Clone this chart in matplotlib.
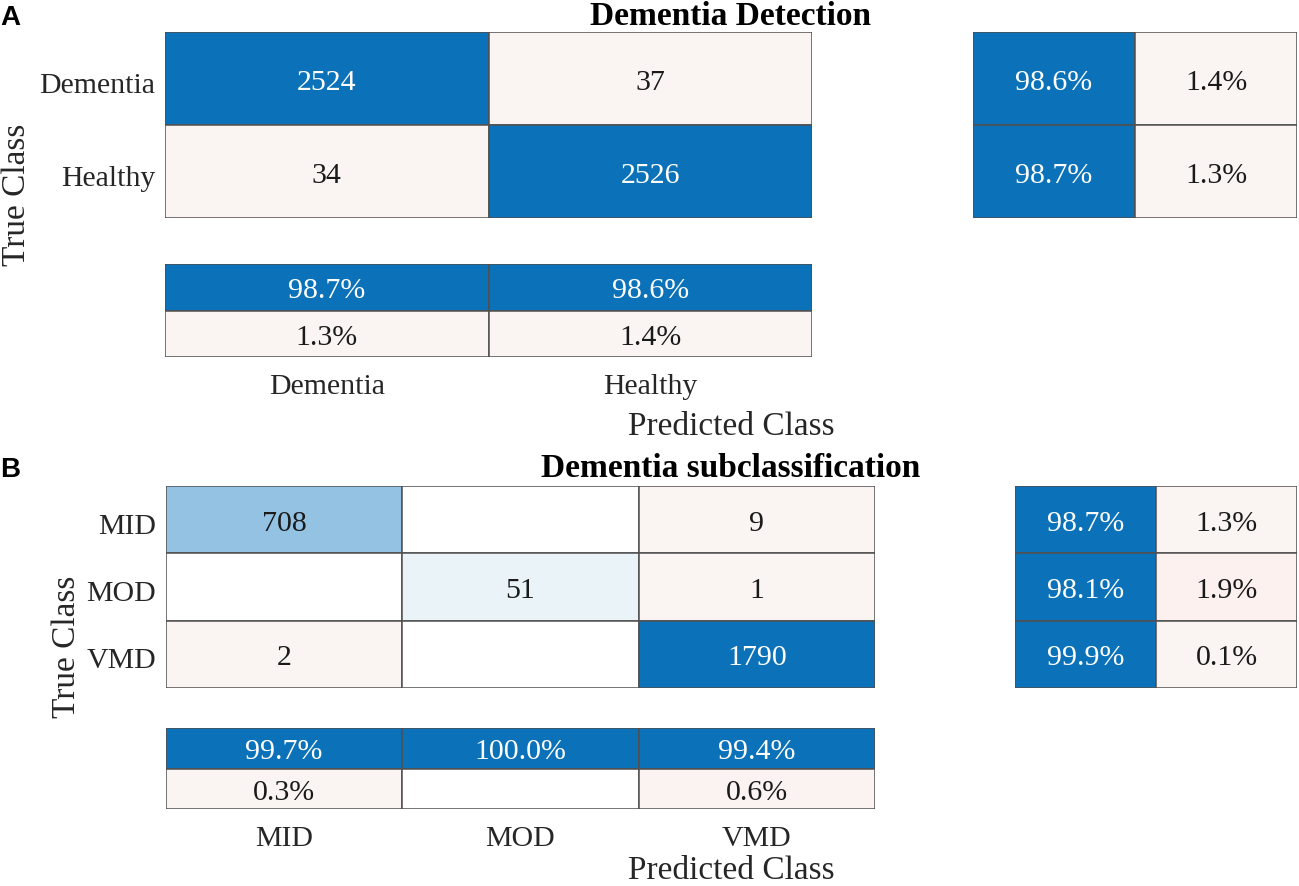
"""Confusion charts for dementia detection (A) and subclassification (B)."""
import matplotlib
matplotlib.use("Agg")
import matplotlib.pyplot as plt
from matplotlib.patches import Rectangle
from matplotlib.transforms import ScaledTranslation

plt.rcParams["font.family"] = ["Liberation Serif", "DejaVu Serif"]

# ---- data -------------------------------------------------------------
LABELS_A = ["Dementia", "Healthy"]
COUNTS_A = [[2524, 37], [34, 2526]]
ROW_PCT_A = [[98.6, 1.4], [98.7, 1.3]]
COL_PCT_A = [[98.7, 98.6], [1.3, 1.4]]

LABELS_B = ["MID", "MOD", "VMD"]
COUNTS_B = [[708, 0, 9], [0, 51, 1], [2, 0, 1790]]
ROW_PCT_B = [[98.7, 1.3], [98.1, 1.9], [99.9, 0.1]]
COL_PCT_B = [[99.7, 100.0, 99.4], [0.3, 0.0, 0.6]]

# ---- styles -----------------------------------------------------------
BLUE = "#0b72b9"
PALE = "#faf5f2"
W = "#ffffff"
COLORS_A = [[BLUE, PALE], [PALE, BLUE]]
ROW_COLORS_A = [[BLUE, PALE], [BLUE, PALE]]
COL_COLORS_A = [[BLUE, BLUE], [PALE, PALE]]
COLORS_B = [["#93c2e3", W, PALE], [W, "#eaf3f8", PALE], [PALE, W, BLUE]]
ROW_COLORS_B = [[BLUE, PALE], [BLUE, "#fcf1ee"], [BLUE, PALE]]
COL_COLORS_B = [[BLUE, BLUE, BLUE], [PALE, W, "#fbf3f2"]]

FIG_W, FIG_H = 1299, 886
FS = 21.5


def box(x0, y0, x1, y1):
    """pixel box (top-left origin) -> figure fraction rect"""
    return [x0 / FIG_W, 1 - y1 / FIG_H, (x1 - x0) / FIG_W, (y1 - y0) / FIG_H]


def pt(x, y):
    return x / FIG_W, 1 - y / FIG_H


def draw_grid(ax, texts, colors):
    nrows, ncols = len(texts), len(texts[0])
    for r in range(nrows):
        for c in range(ncols):
            col = colors[r][c]
            ax.add_patch(Rectangle((c, r), 1, 1, facecolor=col,
                                   edgecolor="#505050", linewidth=1.1))
            if texts[r][c]:
                tc = "white" if col == BLUE else "#1a1a1a"
                # baseline a bit below the cell centre so the digits look centred
                ax.annotate(texts[r][c], (c + 0.5, r + 0.5), xytext=(0, -8),
                            textcoords="offset points", ha="center",
                            va="baseline", fontsize=FS, color=tc)
    ax.set_xlim(0, ncols)
    ax.set_ylim(nrows, 0)
    ax.set_xticks([])
    ax.set_yticks([])
    for s in ax.spines.values():
        s.set_visible(False)


def pct(v):
    return "" if v == 0 else f"{v:.1f}%"


def panel(fig, labels, counts, row_pct, col_pct, colors, row_colors,
          col_colors, main_box, row_box, col_box):
    ax = fig.add_axes(box(*main_box))
    draw_grid(ax, [[str(v) if v else "" for v in r] for r in counts], colors)
    n = len(labels)
    ax.set_yticks([i + 0.5 for i in range(n)])
    ax.set_yticklabels(labels, fontsize=FS, color="#262626")
    ax.tick_params(axis="y", length=0, pad=7)
    shift = ScaledTranslation(0, -3 / 72, fig.dpi_scale_trans)
    for lab in ax.get_yticklabels():
        lab.set_transform(lab.get_transform() + shift)

    axr = fig.add_axes(box(*row_box))
    draw_grid(axr, [[pct(v) for v in r] for r in row_pct], row_colors)

    axc = fig.add_axes(box(*col_box))
    draw_grid(axc, [[pct(v) for v in r] for r in col_pct], col_colors)
    axc.set_xticks([i + 0.5 for i in range(n)])
    axc.set_xticklabels(labels, fontsize=FS, color="#262626")
    axc.tick_params(axis="x", length=0, pad=12)


fig = plt.figure(figsize=(FIG_W / 100, FIG_H / 100), dpi=100)

# panel A
panel(fig, LABELS_A, COUNTS_A, ROW_PCT_A, COL_PCT_A, COLORS_A, ROW_COLORS_A,
      COL_COLORS_A, (165, 32, 812, 218), (973, 32, 1297, 218),
      (165, 264, 812, 357))
fig.text(*pt(731, 25), "Dementia Detection", ha="center", va="baseline",
         fontsize=24, fontweight="bold")
fig.text(*pt(731, 435), "Predicted Class", ha="center", va="baseline",
         fontsize=24, color="#262626")
fig.text(*pt(25, 195), "True Class", ha="center", va="baseline", rotation=90,
         rotation_mode="anchor", fontsize=24, color="#262626")
fig.text(*pt(0, 25), "A", ha="left", va="baseline", fontsize=20,
         fontweight="bold", family="Liberation Sans")

# panel B
panel(fig, LABELS_B, COUNTS_B, ROW_PCT_B, COL_PCT_B, COLORS_B, ROW_COLORS_B,
      COL_COLORS_B, (166, 486, 875, 688), (1015, 486, 1297, 688),
      (166, 728, 875, 809))
fig.text(*pt(731, 477), "Dementia subclassification", ha="center",
         va="baseline", fontsize=24, fontweight="bold")
fig.text(*pt(731, 879), "Predicted Class", ha="center", va="baseline",
         fontsize=24, color="#262626")
fig.text(*pt(75, 647), "True Class", ha="center", va="baseline", rotation=90,
         rotation_mode="anchor", fontsize=24, color="#262626")
fig.text(*pt(0, 477), "B", ha="left", va="baseline", fontsize=20,
         fontweight="bold", family="Liberation Sans")

fig.savefig("out.png", dpi=100)
